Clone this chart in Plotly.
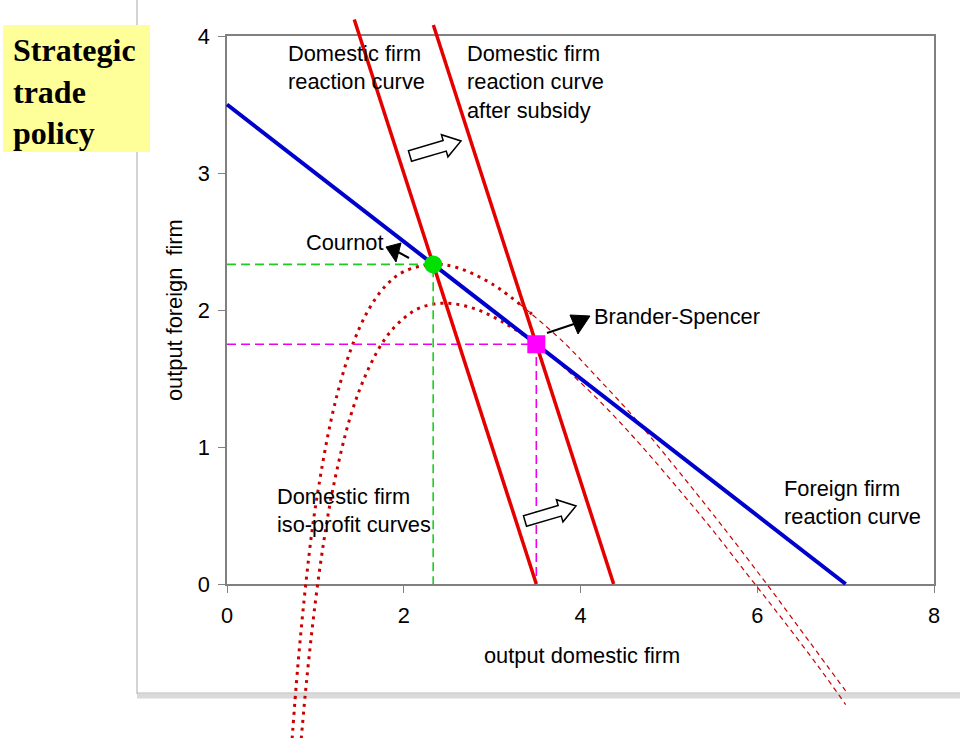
import plotly.graph_objects as go

# ---------------- data ----------------
x_ticks = [0, 2, 4, 6, 8]
y_ticks = [0, 1, 2, 3, 4]
x_title = "output domestic firm"
y_title = "output foreign\u00a0 firm"

foreign_rc_x = [0, 7]
foreign_rc_y = [3.5, 0]
domestic_rc_x = [1.44, 3.5]
domestic_rc_y = [4.12, 0]
subsidy_rc_x = [2.335, 4.375]
subsidy_rc_y = [4.08, 0]

cournot_x = [2.333]
cournot_y = [2.333]
brander_x = [3.5]
brander_y = [1.75]

# outer iso-profit curve (through Cournot point)
iso1_dot_x = [0.73, 0.8, 0.9, 1.0, 1.2, 1.4, 1.6, 1.8, 2.0, 2.333, 2.6, 3.0, 3.45]
iso1_dot_y = [-1.19, -0.61, 0.05, 0.56, 1.26, 1.71, 2.0, 2.18, 2.28, 2.333, 2.31, 2.19, 1.97]
iso1_dash_x = [3.3, 3.8, 4.2, 4.6, 5.0, 5.4, 5.8, 6.2, 6.6, 7.0]
iso1_dash_y = [2.05, 1.77, 1.5, 1.22, 0.91, 0.59, 0.26, -0.08, -0.43, -0.78]

# inner iso-profit curve (through Brander-Spencer point)
iso2_dot_x = [0.84, 0.9, 1.0, 1.1, 1.2, 1.4, 1.6, 1.8, 2.0, 2.2, 2.475, 2.8, 3.1, 3.4]
iso2_dot_y = [-1.13, -0.71, -0.13, 0.33, 0.7, 1.23, 1.57, 1.8, 1.94, 2.02, 2.05, 2.01, 1.92, 1.8]
iso2_dash_x = [3.3, 3.5, 3.9, 4.3, 4.7, 5.1, 5.5, 5.9, 6.3, 6.7, 7.0]
iso2_dash_y = [1.84, 1.75, 1.53, 1.28, 1.0, 0.7, 0.39, 0.06, -0.27, -0.61, -0.88]

# ---------------- geometry ----------------
W, H = 960, 738
PX_X0, PX_X8 = 227, 934      # pixel of x=0 and x=8
PY_Y0, PY_Y4 = 584, 36       # pixel of y=0 and y=4
sx = (PX_X8 - PX_X0) / 8.0
sy = (PY_Y0 - PY_Y4) / 4.0

def P(px, py):
    return px / W, 1 - py / H

FONT = "Liberation Sans, Arial, sans-serif"
FS = 21.8
RED = "#E50000"
DOTRED = "#C80000"

fig = go.Figure()

# dummy trace to register the main axes
fig.add_trace(go.Scatter(x=[None], y=[None], xaxis="x", yaxis="y",
                         showlegend=False, hoverinfo="skip"))

ov = dict(xaxis="x2", yaxis="y2", showlegend=False, hoverinfo="skip")

# iso-profit curves
for dx, dy, hx, hy in [(iso1_dot_x, iso1_dot_y, iso1_dash_x, iso1_dash_y),
                       (iso2_dot_x, iso2_dot_y, iso2_dash_x, iso2_dash_y)]:
    fig.add_trace(go.Scatter(x=dx, y=dy, mode="lines", line_shape="spline",
                             line=dict(color=DOTRED, width=3, dash="3px,5px"), **ov))
    fig.add_trace(go.Scatter(x=hx, y=hy, mode="lines", line_shape="spline",
                             line=dict(color=DOTRED, width=1.2, dash="5px,4px"), **ov))

# guide lines
fig.add_trace(go.Scatter(x=[0, cournot_x[0], cournot_x[0]], y=[cournot_y[0], cournot_y[0], 0],
                         mode="lines", line=dict(color="#1ECC1E", width=1.6, dash="9px,5px"), **ov))
fig.add_trace(go.Scatter(x=[0, brander_x[0], brander_x[0]], y=[brander_y[0], brander_y[0], 0],
                         mode="lines", line=dict(color="#EE00EE", width=1.6, dash="9px,5px"), **ov))

# reaction curves
fig.add_trace(go.Scatter(x=domestic_rc_x, y=domestic_rc_y, mode="lines",
                         line=dict(color=RED, width=3.5), **ov))
fig.add_trace(go.Scatter(x=subsidy_rc_x, y=subsidy_rc_y, mode="lines",
                         line=dict(color=RED, width=3.5), **ov))
fig.add_trace(go.Scatter(x=foreign_rc_x, y=foreign_rc_y, mode="lines",
                         line=dict(color="#0000CC", width=4), **ov))

# equilibrium points
fig.add_trace(go.Scatter(x=cournot_x, y=cournot_y, mode="markers",
                         marker=dict(symbol="circle", size=18, color="#00E000", line=dict(width=0)), **ov))
fig.add_trace(go.Scatter(x=brander_x, y=brander_y, mode="markers",
                         marker=dict(symbol="square", size=18, color="#FF00FF", line=dict(width=0)), **ov))

# ---------------- shapes ----------------
shapes = []
# outer slide frame
x0, y0 = P(137, 0); x1, y1 = P(137, 694)
shapes.append(dict(type="line", xref="paper", yref="paper", x0=x0, y0=y0, x1=x1, y1=y1,
                   line=dict(color="#A8A8A8", width=1), layer="below"))
x0, y0 = P(137, 696); x1, y1 = P(960, 696)
shapes.append(dict(type="line", xref="paper", yref="paper", x0=x0, y0=y0, x1=x1, y1=y1,
                   line=dict(color="#DADADA", width=5), layer="below"))
x0, y0 = P(137, 693); x1, y1 = P(960, 693)
shapes.append(dict(type="line", xref="paper", yref="paper", x0=x0, y0=y0, x1=x1, y1=y1,
                   line=dict(color="#B8B8B8", width=1), layer="below"))
# title box
x0, y0 = P(3, 152); x1, y1 = P(150, 25)
shapes.append(dict(type="rect", xref="paper", yref="paper", x0=x0, y0=y0, x1=x1, y1=y1,
                   fillcolor="#FFFF99", line=dict(width=0), layer="below"))

def path_from_px(points):
    segs = []
    for i, (px, py) in enumerate(points):
        a, b = P(px, py)
        segs.append(("M" if i == 0 else "L") + f"{a:.5f},{b:.5f}")
    return " ".join(segs) + " Z"

def block_arrow(tail, tip, shw=5.5, hhw=11.5, hl=17):
    import math
    dx, dy = tip[0] - tail[0], tip[1] - tail[1]
    L = math.hypot(dx, dy)
    ux, uy = dx / L, dy / L
    nx, ny = -uy, ux
    bx, by = tip[0] - ux * hl, tip[1] - uy * hl
    pts = [(tail[0] + nx * shw, tail[1] + ny * shw),
           (bx + nx * shw, by + ny * shw),
           (bx + nx * hhw, by + ny * hhw),
           tip,
           (bx - nx * hhw, by - ny * hhw),
           (bx - nx * shw, by - ny * shw),
           (tail[0] - nx * shw, tail[1] - ny * shw)]
    return dict(type="path", xref="paper", yref="paper", path=path_from_px(pts),
                fillcolor="white", line=dict(color="black", width=1.5))

shapes.append(block_arrow((410, 156), (461, 141)))
shapes.append(block_arrow((525, 521), (576, 506)))

# pointer arrows (black line + filled head)
def pointer(tail, base_mid, tri):
    out = []
    a, b = P(*tail); c, d = P(*base_mid)
    out.append(dict(type="line", xref="paper", yref="paper", x0=a, y0=b, x1=c, y1=d,
                    line=dict(color="black", width=2)))
    out.append(dict(type="path", xref="paper", yref="paper", path=path_from_px(tri),
                    fillcolor="black", line=dict(color="black", width=1)))
    return out

shapes += pointer((409, 258), (398, 252), [(386, 247), (401, 243), (396, 262)])
shapes += pointer((547, 333), (574, 324), [(590, 316), (570, 315), (578, 334)])

# ---------------- annotations ----------------
ann = []
def label(text, px, py, size=FS, xanchor="left", align="left", family=FONT, angle=0):
    a, b = P(px, py)
    ann.append(dict(text=text, x=a, y=b, xref="paper", yref="paper", xanchor=xanchor,
                    yanchor="middle", align=align, showarrow=False, textangle=angle,
                    font=dict(family=family, size=size, color="black")))

label("<b>Strategic<br>trade<br>policy</b>", 11, 91, size=32,
      family="Liberation Serif, Times New Roman, serif")
label("Domestic firm<br>reaction curve", 286, 67)
label("Domestic firm<br>reaction curve<br>after subsidy", 465, 82)
label("Cournot", 304, 242)
label("Brander-Spencer", 592, 316)
label("Domestic firm<br>iso-profit curves", 275, 510)
label("Foreign firm<br>reaction curve", 782, 502)
label(x_title, 582, 655, xanchor="center", align="center")
label(y_title, 175, 310, xanchor="center", align="center", angle=-90)

# ---------------- layout ----------------
axis_common = dict(showgrid=False, zeroline=False, showline=True, linecolor="#808080",
                   linewidth=1.5, mirror=True, ticks="outside", ticklen=7,
                   tickcolor="#808080", tickwidth=1.2, automargin=False,
                   tickfont=dict(family=FONT, size=FS, color="black"))

fig.update_layout(
    template="none",
    width=W, height=H,
    margin=dict(l=0, r=0, t=0, b=0, pad=0, autoexpand=False),
    paper_bgcolor="white",
    plot_bgcolor="rgba(0,0,0,0)",
    showlegend=False,
    xaxis=dict(domain=[PX_X0 / W, PX_X8 / W], range=[0, 8], tickvals=x_ticks,
               ticktext=[str(v) for v in x_ticks], anchor="y",
               ticklabelstandoff=4, **axis_common),
    yaxis=dict(domain=[1 - PY_Y0 / H, 1 - PY_Y4 / H], range=[0, 4], tickvals=y_ticks,
               ticktext=[str(v) for v in y_ticks], anchor="x",
               ticklabelstandoff=4, **axis_common),
    xaxis2=dict(domain=[0, 1], range=[(0 - PX_X0) / sx, (W - PX_X0) / sx],
                anchor="y2", visible=False, automargin=False),
    yaxis2=dict(domain=[0, 1], range=[(PY_Y0 - H) / sy, PY_Y0 / sy],
                anchor="x2", visible=False, automargin=False),
    shapes=shapes,
    annotations=ann,
)

fig.write_html("out.html")
